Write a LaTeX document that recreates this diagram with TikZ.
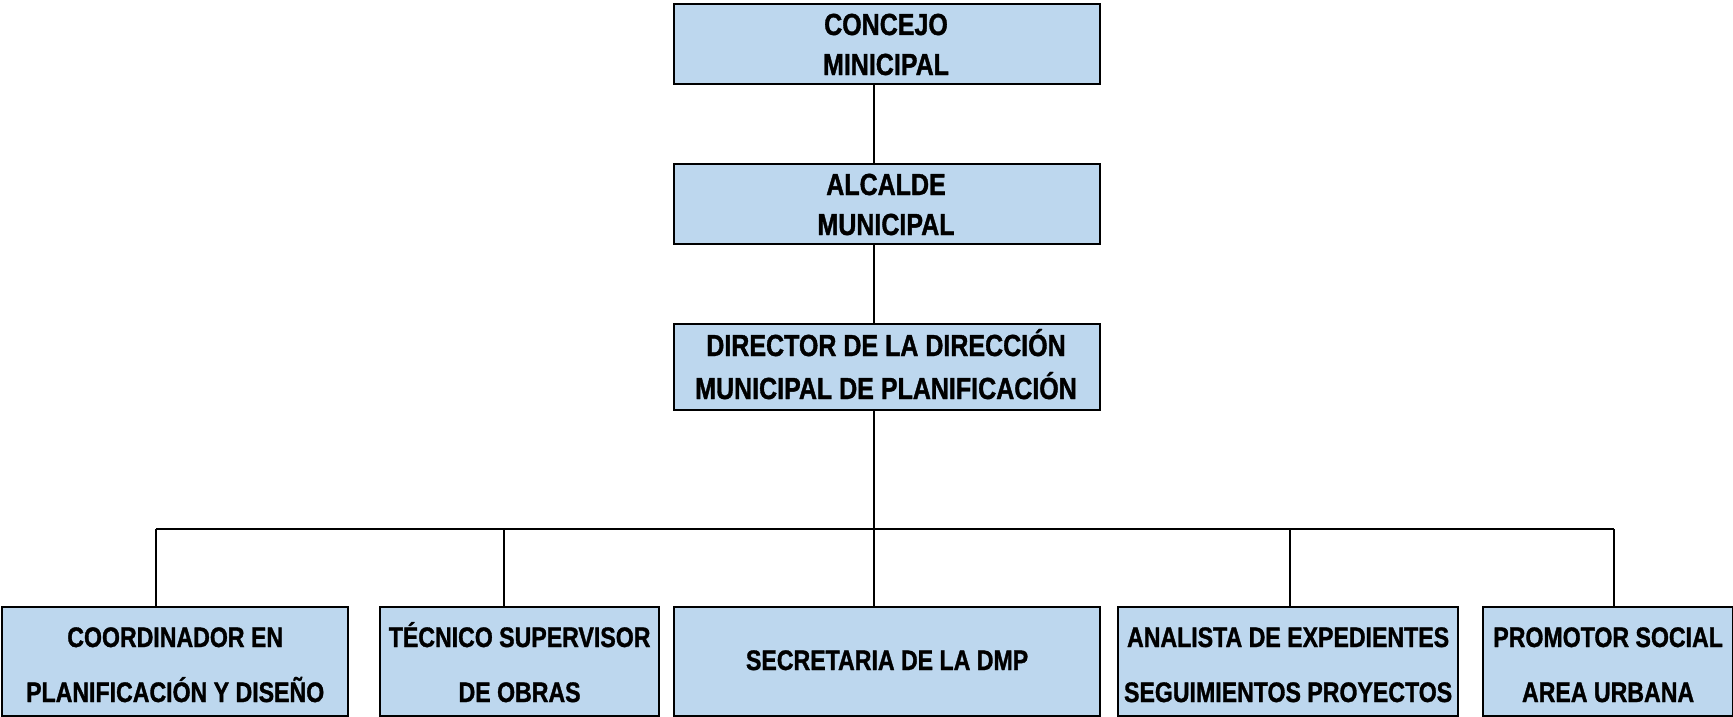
\documentclass[tikz,border=0pt]{standalone}
\usepackage{fontspec}
\setmainfont{Liberation Sans}[FakeStretch=0.82,BoldFeatures={FakeStretch=0.82,FakeBold=1.2}]
\definecolor{boxblue}{RGB}{189,215,238}
\begin{document}
\begin{tikzpicture}[x=1pt,y=-1pt,
  orgbox/.style={draw=black, line width=2.2pt, fill=boxblue, inner sep=0pt, anchor=north west},
  toptxt/.style={anchor=base, inner sep=0pt, font=\fontsize{30.5}{36}\selectfont\bfseries},
  bottxt/.style={anchor=base, inner sep=0pt, font=\fontsize{28.2}{34}\selectfont\bfseries},
  conn/.style={draw=black, line width=2.2pt}]
\useasboundingbox (0,0) rectangle (1733,717);
% boxes
\node[orgbox, minimum width=426pt, minimum height=80pt] (concejo) at (673,3) {};
\node[orgbox, minimum width=426pt, minimum height=80pt] (alcalde) at (673,163) {};
\node[orgbox, minimum width=426pt, minimum height=86pt] (director) at (673,323) {};
\node[orgbox, minimum width=346pt, minimum height=109pt] (b1) at (1.1,606) {};
\node[orgbox, minimum width=279pt, minimum height=109pt] (b2) at (379,606) {};
\node[orgbox, minimum width=426pt, minimum height=109pt] (b3) at (673,606) {};
\node[orgbox, minimum width=340pt, minimum height=109pt] (b4) at (1117,606) {};
\node[orgbox, minimum width=250pt, minimum height=109pt] (b5) at (1482,606) {};
% texts
\node[toptxt] (t1a) at (886,35) {CONCEJO};
\node[toptxt] (t1b) at (886,75) {MINICIPAL};
\node[toptxt] (t2a) at (886,195) {ALCALDE};
\node[toptxt] (t2b) at (886,235) {MUNICIPAL};
\node[toptxt] (t3a) at (886,356) {DIRECTOR DE LA DIRECCIÓN};
\node[toptxt] (t3b) at (886,399) {MUNICIPAL DE PLANIFICACIÓN};
\node[bottxt] (u1a) at (b1.center |- 0,647) {COORDINADOR EN};
\node[bottxt] (u1b) at (b1.center |- 0,702) {PLANIFICACIÓN Y DISEÑO};
\node[bottxt] (u2a) at (b2.center |- 0,647) {TÉCNICO SUPERVISOR};
\node[bottxt] (u2b) at (b2.center |- 0,702) {DE OBRAS};
\node[bottxt] (u3a) at (b3.center |- 0,670) {SECRETARIA DE LA DMP};
\node[bottxt] (u4a) at (b4.center |- 0,647) {ANALISTA DE EXPEDIENTES};
\node[bottxt] (u4b) at (b4.center |- 0,702) {SEGUIMIENTOS PROYECTOS};
\node[bottxt] (u5a) at (b5.center |- 0,647) {PROMOTOR SOCIAL};
\node[bottxt] (u5b) at (b5.center |- 0,702) {AREA URBANA};
% connector coordinates
\coordinate (bus) at (0,529);
\coordinate (d1) at (156,0);
\coordinate (d2) at (504,0);
\coordinate (d3) at (874,0);
\coordinate (d4) at (1290,0);
\coordinate (d5) at (1614,0);
% connectors
\path[conn] (concejo.south -| d3) -- (alcalde.north -| d3);
\path[conn] (alcalde.south -| d3) -- (director.north -| d3);
\path[conn] (director.south -| d3) -- (b3.north -| d3);
\path[conn] (bus -| d1) -- (bus -| d5);
\path[conn] (bus -| d1) -- (b1.north -| d1);
\path[conn] (bus -| d2) -- (b2.north -| d2);
\path[conn] (bus -| d4) -- (b4.north -| d4);
\path[conn] (bus -| d5) -- (b5.north -| d5);
\end{tikzpicture}
\end{document}
